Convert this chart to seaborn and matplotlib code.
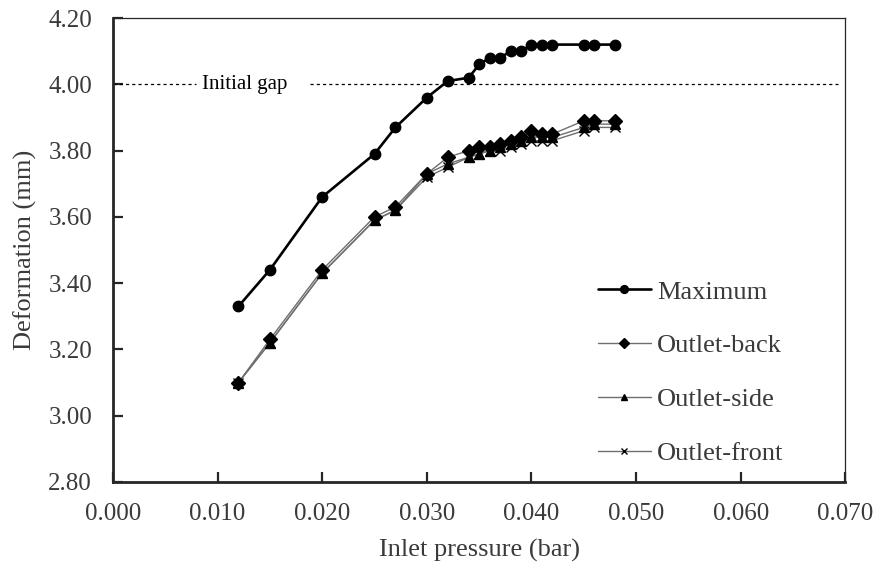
import numpy as np
import pandas as pd
import matplotlib
matplotlib.use("Agg")
import matplotlib.pyplot as plt
import seaborn as sns

# inlet pressure (bar)
pressure = [0.012, 0.015, 0.020, 0.025, 0.027, 0.030, 0.032, 0.034, 0.035, 0.036,
            0.037, 0.038, 0.039, 0.040, 0.041, 0.042, 0.045, 0.046, 0.048]

# deformation (mm)
maximum = [3.33, 3.44, 3.66, 3.79, 3.87, 3.96, 4.01, 4.02, 4.06, 4.08,
           4.08, 4.10, 4.10, 4.12, 4.12, 4.12, 4.12, 4.12, 4.12]
outlet_back = [3.10, 3.23, 3.44, 3.60, 3.63, 3.73, 3.78, 3.80, 3.81, 3.81,
               3.82, 3.83, 3.84, 3.86, 3.85, 3.85, 3.89, 3.89, 3.89]
outlet_side = [3.10, 3.22, 3.43, 3.59, 3.62, 3.73, 3.76, 3.78, 3.79, 3.80,
               3.81, 3.82, 3.83, 3.84, 3.84, 3.84, 3.87, 3.88, 3.88]
outlet_front = [3.10, 3.22, 3.43, 3.59, 3.62, 3.72, 3.75, 3.78, 3.79, 3.80,
                3.80, 3.81, 3.82, 3.83, 3.83, 3.83, 3.86, 3.87, 3.87]

initial_gap = 4.00

series = {
    "Maximum": maximum,
    "Outlet-back": outlet_back,
    "Outlet-side": outlet_side,
    "Outlet-front": outlet_front,
}
df = pd.concat(
    [pd.DataFrame({"pressure": pressure, "deformation": v, "series": k}) for k, v in series.items()],
    ignore_index=True,
)

sns.set_style("ticks")
plt.rcParams["font.family"] = ["Liberation Serif", "DejaVu Serif"]
txt = "#3a3a3a"

fig = plt.figure(figsize=(8.89, 5.65), dpi=100)
ax = fig.add_axes([0.127, 0.147, 0.824, 0.821])

styles = {
    "Maximum": dict(marker="o", markersize=7.5, lw=1.9, color="black", zorder=5),
    "Outlet-back": dict(marker="D", markersize=7, lw=1.0, color="#6e6e6e", zorder=4),
    "Outlet-side": dict(marker="^", markersize=6.5, lw=1.0, color="#6e6e6e", zorder=3),
    "Outlet-front": dict(marker="x", markersize=6.5, lw=1.0, color="#6e6e6e", zorder=2),
}
for name, st in styles.items():
    sub = df[df["series"] == name]
    sns.lineplot(data=sub, x="pressure", y="deformation", ax=ax, label=name,
                 color=st["color"], lw=st["lw"], marker=st["marker"],
                 markersize=st["markersize"], markerfacecolor="black",
                 markeredgecolor="black", markeredgewidth=1.0, zorder=st["zorder"])

# initial gap reference line, broken around its label
ax.plot([0.0, 0.0079], [initial_gap, initial_gap], color="black", lw=0.9,
        ls=(0, (2.5, 2.5)), zorder=1)
ax.plot([0.0188, 0.0693], [initial_gap, initial_gap], color="black", lw=0.9,
        ls=(0, (2.5, 2.5)), zorder=1)
ax.text(0.0085, initial_gap, "Initial gap", fontsize=15, color="black",
        va="center", ha="left")

ax.set_xlim(0.0, 0.070)
ax.set_ylim(2.80, 4.20)
ax.set_xticks(np.arange(0, 0.0701, 0.01))
ax.set_yticks(np.arange(2.8, 4.201, 0.2))
ax.xaxis.set_major_formatter(matplotlib.ticker.FormatStrFormatter("%.3f"))
ax.yaxis.set_major_formatter(matplotlib.ticker.FormatStrFormatter("%.2f"))
ax.tick_params(direction="in", length=7, width=1.6, labelsize=18, labelcolor=txt, pad=15)
ax.set_xlabel("Inlet pressure (bar)", fontsize=19, color=txt, labelpad=10)
ax.set_ylabel("Deformation (mm)", fontsize=19, color=txt, labelpad=8)

for side in ["left", "bottom"]:
    ax.spines[side].set_linewidth(2.0)
for side in ["top", "right"]:
    ax.spines[side].set_linewidth(0.9)
    ax.spines[side].set_visible(True)

leg = ax.legend(loc="lower left", bbox_to_anchor=(0.644, 0.008), frameon=False,
                fontsize=19, handlelength=2.0, handletextpad=0.25, labelspacing=1.15,
                borderpad=0, markerscale=0.75)
for t in leg.get_texts():
    t.set_color(txt)

fig.savefig("out.png", dpi=100)
